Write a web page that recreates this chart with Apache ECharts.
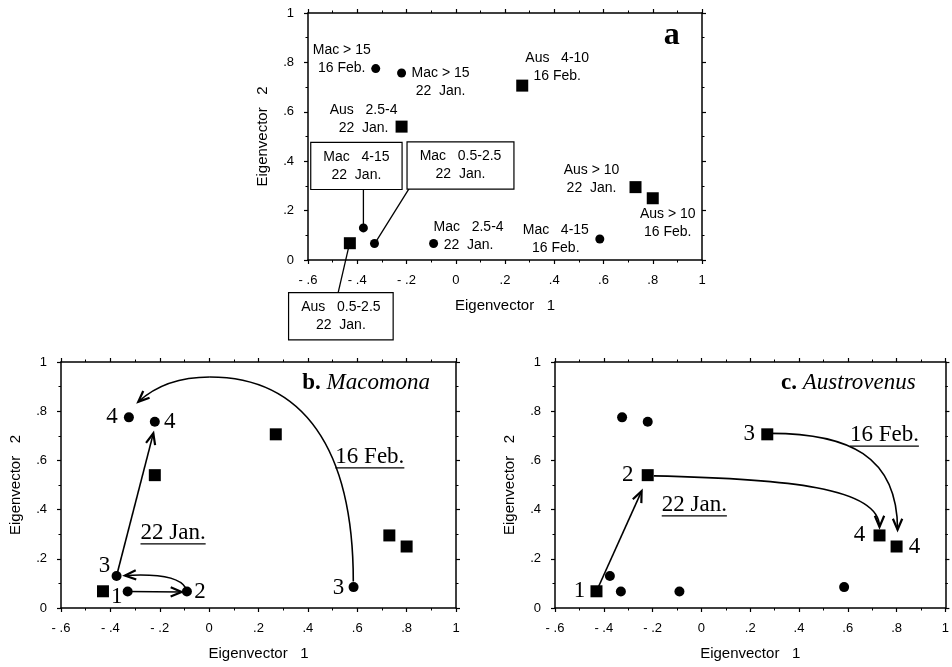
<!DOCTYPE html>
<html><head><meta charset="utf-8">
<script src="https://cdn.jsdelivr.net/npm/echarts@6/dist/echarts.min.js"></script>
<style>html,body{margin:0;padding:0;background:#fff}#c{width:952px;height:667px}</style>
</head><body><div id="c"></div>
<script>
// ---------- data ----------
const macX = [-0.33, -0.09, -0.375, -0.22, 0.585, -0.325];
const macY = [0.067, 0.067, 0.13, 0.757, 0.085, 0.775];
const macNames = ['Mac   0.5-2.5\n22  Jan.', 'Mac   2.5-4\n22  Jan.', 'Mac   4-15\n22  Jan.', 'Mac > 15\n22  Jan.', 'Mac   4-15\n16 Feb.', 'Mac > 15\n16 Feb.'];
const macSteps = ['1', '2', '3', '4', '3', '4'];
const ausX = [-0.43, -0.22, 0.27, 0.73, 0.80];
const ausY = [0.068, 0.54, 0.706, 0.295, 0.25];
const ausNames = ['Aus   0.5-2.5\n22  Jan.', 'Aus   2.5-4\n22  Jan.', 'Aus   4-10\n16 Feb.', 'Aus > 10\n22  Jan.', 'Aus > 10\n16 Feb.'];
const ausSteps = ['1', '2', '3', '4', '4'];
const xTickLabels = ['- .6', '- .4', '- .2', '0', '.2', '.4', '.6', '.8', '1'];
const yTickLabels = ['0', '.2', '.4', '.6', '.8', '1'];
const dateLabels = ['22 Jan.', '16 Feb.'];
// trajectories (data space): [start, end] or [start, c1, c2, end, c1, c2, end ...]
const macArrows = [
  [[-0.33, 0.067], [-0.111, 0.065]],
  [[-0.095, 0.082], [-0.12, 0.125], [-0.2, 0.14], [-0.341, 0.132]],
  [[-0.375, 0.13], [-0.226, 0.71]],
  [[0.584, 0.108], [0.584, 0.648], [0.381, 0.939], [0.003, 0.939], [-0.12, 0.939], [-0.22, 0.90], [-0.287, 0.838]]
];
const ausArrows = [
  [[-0.43, 0.068], [-0.245, 0.475]],
  [[-0.195, 0.537], [0.35, 0.525], [0.73, 0.49], [0.73, 0.33]],
  [[0.284, 0.71], [0.6, 0.71], [0.804, 0.62], [0.804, 0.318]]
];
// callout leader lines in panel a (point -> box edge)
const calloutLines = [
  [[-0.375, 0.13], [-0.375, 0.29]],
  [[-0.329, 0.066], [-0.189, 0.29]],
  [[-0.431, 0.068], [-0.478, -0.134]]
];

// ---------- helpers ----------
const SANS = '"Liberation Sans", Arial, Helvetica, sans-serif';
const SERIF = '"Liberation Serif", "Times New Roman", serif';
const ctx = document.createElement('canvas').getContext('2d');
function measure(font, text) { ctx.font = font; return ctx.measureText(text).width; }

const grids = [
  { left: 308, top: 13, width: 394, height: 247 },
  { left: 61, top: 362, width: 395, height: 246 },
  { left: 555, top: 362, width: 395, height: 246 }
];

function axisBase(gi) {
  return {
    type: 'value', gridIndex: gi,
    axisLine: { show: true, onZero: false, lineStyle: { color: '#000', width: 1.5 } },
    axisTick: { show: true, inside: false, length: 4, lineStyle: { color: '#000', width: 1.2 } },
    minorTick: { show: true, splitNumber: 2, length: 2.5, lineStyle: { color: '#000', width: 1 } },
    splitLine: { show: false }, minorSplitLine: { show: false }
  };
}
const xAxes = [], yAxes = [];
grids.forEach((g, gi) => {
  xAxes.push(Object.assign(axisBase(gi), {
    position: 'bottom', min: -0.6, max: 1, interval: 0.2,
    name: 'Eigenvector   1', nameLocation: 'middle', nameGap: 38,
    nameTextStyle: { color: '#000', fontSize: 15, fontFamily: SANS },
    axisLabel: { show: true, margin: 14, color: '#000', fontSize: 13, fontFamily: SANS,
      formatter: v => xTickLabels[Math.round((v + 0.6) / 0.2)] }
  }));
  xAxes.push(Object.assign(axisBase(gi), {
    position: 'top', min: -0.6, max: 1, interval: 0.2, axisLabel: { show: false }
  }));
  yAxes.push(Object.assign(axisBase(gi), {
    position: 'left', min: 0, max: 1, interval: 0.2,
    name: 'Eigenvector   2', nameLocation: 'middle', nameGap: 38,
    nameTextStyle: { color: '#000', fontSize: 15, fontFamily: SANS },
    axisLabel: { show: true, margin: 14, color: '#000', fontSize: 13, fontFamily: SANS,
      formatter: v => yTickLabels[Math.round(v / 0.2)] }
  }));
  yAxes.push(Object.assign(axisBase(gi), {
    position: 'right', min: 0, max: 1, interval: 0.2, axisLabel: { show: false }
  }));
});

function scatterPair(gi, circleSize, squareSize) {
  return [
    { type: 'scatter', xAxisIndex: gi * 2, yAxisIndex: gi * 2, symbol: 'circle', symbolSize: circleSize,
      itemStyle: { color: '#000', opacity: 1 }, z: 4, silent: true,
      data: macX.map((x, i) => [x, macY[i]]) },
    { type: 'scatter', xAxisIndex: gi * 2, yAxisIndex: gi * 2, symbol: 'rect', symbolSize: squareSize,
      itemStyle: { color: '#000', opacity: 1 }, z: 4, silent: true,
      data: ausX.map((x, i) => [x, ausY[i]]) }
  ];
}

function pathSeries(gi, paths, withHead, lw) {
  return {
    type: 'custom', xAxisIndex: gi * 2, yAxisIndex: gi * 2, clip: false, silent: true, z: 3,
    data: paths.map(p => p[0]),
    renderItem(params, api) {
      const pts = paths[params.dataIndex].map(p => api.coord(p));
      const children = [];
      let end, prev;
      if (pts.length === 2) {
        children.push({ type: 'line', shape: { x1: pts[0][0], y1: pts[0][1], x2: pts[1][0], y2: pts[1][1] },
          style: { stroke: '#000', lineWidth: lw } });
        end = pts[1]; prev = pts[0];
      } else {
        for (let i = 0; i + 3 < pts.length; i += 3) {
          children.push({ type: 'bezierCurve', shape: { x1: pts[i][0], y1: pts[i][1], cpx1: pts[i + 1][0], cpy1: pts[i + 1][1],
            cpx2: pts[i + 2][0], cpy2: pts[i + 2][1], x2: pts[i + 3][0], y2: pts[i + 3][1] },
            style: { stroke: '#000', fill: null, lineWidth: lw } });
        }
        end = pts[pts.length - 1]; prev = pts[pts.length - 2];
      }
      if (withHead) {
        const ang = Math.atan2(end[1] - prev[1], end[0] - prev[0]);
        const L = 12, a = 0.4;
        const p1 = [end[0] - L * Math.cos(ang - a), end[1] - L * Math.sin(ang - a)];
        const p2 = [end[0] - L * Math.cos(ang + a), end[1] - L * Math.sin(ang + a)];
        children.push({ type: 'polyline', shape: { points: [p1, end, p2] },
          style: { stroke: '#000', fill: null, lineWidth: 2.2, lineJoin: 'miter' } });
      }
      return { type: 'group', children };
    }
  };
}

function textSeries(gi, items) {
  return {
    type: 'custom', xAxisIndex: gi * 2, yAxisIndex: gi * 2, clip: false, silent: true, z: 6,
    data: items.map(it => it.at),
    renderItem(params, api) {
      const it = items[params.dataIndex];
      const c = api.coord(it.at);
      const x = c[0] + (it.dx || 0), y = c[1] + (it.dy || 0);
      const style = { text: it.text, font: it.font, fill: '#000', align: it.align || 'center',
        verticalAlign: 'middle' };
      if (it.lh) style.lineHeight = it.lh;
      if (it.rich) style.rich = it.rich;
      if (it.box) {
        style.borderColor = '#000'; style.borderWidth = 1.2; style.padding = [5, 12];
        style.backgroundColor = '#fff';
      }
      const children = [{ type: 'text', x, y, style }];
      if (it.underline) {
        const w = measure(it.font, it.text);
        const uy = y + it.underline;
        children.push({ type: 'line', shape: { x1: x - w / 2, y1: uy, x2: x + w / 2, y2: uy },
          style: { stroke: '#000', lineWidth: 1.2 } });
      }
      return { type: 'group', children };
    }
  };
}

// ---------- panel a annotations ----------
const fA = '14px ' + SANS;
const macOff = [[86, -78, 1], [35, -7, 0], [-7, -62, 1], [39, 9, 0], [-44, 0, 0], [-34, -9, 0]];
const ausOff = [[-9, 73, 1], [-38, -7, 0], [35, -18, 0], [-44, -8, 0], [15, 25, 0]];
const itemsA = [];
macNames.forEach((t, i) => itemsA.push({ at: [macX[i], macY[i]], dx: macOff[i][0], dy: macOff[i][1],
  box: !!macOff[i][2], text: t, font: fA, lh: 18 }));
ausNames.forEach((t, i) => itemsA.push({ at: [ausX[i], ausY[i]], dx: ausOff[i][0], dy: ausOff[i][1],
  box: !!ausOff[i][2], text: t, font: fA, lh: 18 }));
itemsA.push({ at: [0.91, 0.907], text: 'a', font: 'bold 32px ' + SERIF, align: 'right' });

// ---------- panel b / c annotations ----------
const fN = '23px ' + SERIF;
const richTitle = { b: { font: 'bold 23px ' + SERIF, fill: '#000' }, i: { font: 'italic 23px ' + SERIF, fill: '#000' } };
const macStepOff = [[-11, 5], [13, 0], [-12, -10], [15, 0], [-15, 1], [-17, 0]];
const itemsB = macSteps.map((t, i) => ({ at: [macX[i], macY[i]], dx: macStepOff[i][0], dy: macStepOff[i][1], text: t, font: fN }));
itemsB.push({ at: [-0.146, 0.305], text: dateLabels[0], font: fN, underline: 11 });
itemsB.push({ at: [0.651, 0.614], text: dateLabels[1], font: fN, underline: 11 });
itemsB.push({ at: [0.895, 0.914], text: '{b|b.} {i|Macomona}', font: fN, rich: richTitle, align: 'right' });

const ausStepOff = [[-17, 0], [-20, 0], [-18, 0], [-20, 0], [18, 0]];
const itemsC = ausSteps.map((t, i) => ({ at: [ausX[i], ausY[i]], dx: ausStepOff[i][0], dy: ausStepOff[i][1], text: t, font: fN }));
itemsC.push({ at: [-0.029, 0.419], text: dateLabels[0], font: fN, underline: 11 });
itemsC.push({ at: [0.75, 0.703], text: dateLabels[1], font: fN, underline: 11 });
itemsC.push({ at: [0.878, 0.914], text: '{b|c.} {i|Austrovenus}', font: fN, rich: richTitle, align: 'right' });

const series = [].concat(
  scatterPair(0, 9, 12),
  [pathSeries(0, calloutLines, false, 1.3), textSeries(0, itemsA)],
  scatterPair(1, 10, 12),
  [pathSeries(1, macArrows, true, 1.6), textSeries(1, itemsB)],
  scatterPair(2, 10, 12),
  [pathSeries(2, ausArrows, true, 1.6), textSeries(2, itemsC)]
);

const chart = echarts.init(document.getElementById('c'), null, { renderer: 'canvas' });
chart.setOption({
  animation: false,
  backgroundColor: '#fff',
  grid: grids,
  xAxis: xAxes,
  yAxis: yAxes,
  series
});
</script>
</body></html>
